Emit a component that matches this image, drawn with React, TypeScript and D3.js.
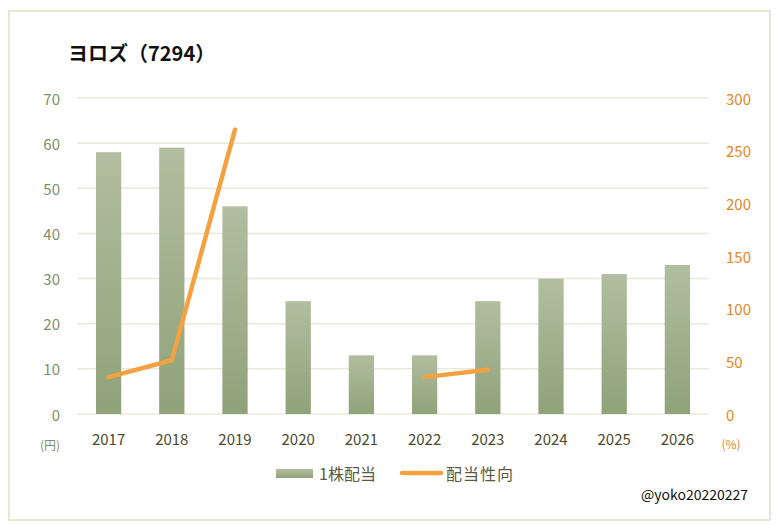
import * as d3 from 'd3'

const YEARS = ['2017', '2018', '2019', '2020', '2021', '2022', '2023', '2024', '2025', '2026']
// 1株配当 (円)
const DIVIDEND = [58, 59, 46, 25, 13, 13, 25, 30, 31, 33]
// 配当性向 (%), null = no data
const PAYOUT: (number | null)[] = [35, 51, 270, null, null, 35, 42, null, null, null]
const LEFT_TICKS = [0, 10, 20, 30, 40, 50, 60, 70]
const RIGHT_TICKS = [0, 50, 100, 150, 200, 250, 300]

const W = 781, H = 532
const FONT = '"Noto Sans CJK JP", "Noto Sans", sans-serif'
const ORANGE = '#f4a142'
const GRID = '#e8e9d8'

export default function App() {
  const x = d3.scaleBand<string>().domain(YEARS).range([77, 709]).paddingInner(0.6).paddingOuter(0.3)
  const yL = d3.scaleLinear().domain([0, 70]).range([414, 98])
  const yR = d3.scaleLinear().domain([0, 300]).range([414, 98])

  const line = d3.line<number | null>()
    .defined(d => d != null)
    .x((_, i) => (x(YEARS[i]) ?? 0) + x.bandwidth() / 2)
    .y(d => yR(d as number))

  return (
    <svg width={W} height={H} style={{ position: 'absolute', left: 0, top: 0 }} fontFamily={FONT}>
      <defs>
        <linearGradient id="barGrad" x1="0" y1="0" x2="0" y2="1">
          <stop offset="0%" stopColor="#b1be9f" />
          <stop offset="100%" stopColor="#8fa27a" />
        </linearGradient>
      </defs>
      <rect x={0} y={0} width={W} height={H} fill="#fff" />
      <rect x={9} y={11} width={761} height={509} fill="#fff" stroke="#e6e7d5" strokeWidth={2} />

      <text x={68} y={52} dominantBaseline="central" fontSize={20} fontWeight={700} fill="#111">ヨロズ（7294）</text>

      {/* gridlines */}
      {LEFT_TICKS.map(t => (
        <line key={t} x1={77} x2={709} y1={yL(t)} y2={yL(t)} stroke={GRID} strokeWidth={1.5} />
      ))}

      {/* left axis labels */}
      {LEFT_TICKS.map(t => (
        <text key={t} x={60} y={yL(t)} textAnchor="end" dominantBaseline="central" fontSize={15} fill="#7e8f68">{t}</text>
      ))}
      <text x={50} y={444} textAnchor="middle" dominantBaseline="central" fontSize={12} fill="#7e8f68">(円)</text>

      {/* right axis labels */}
      {RIGHT_TICKS.map(t => (
        <text key={t} x={726} y={yR(t)} dominantBaseline="central" fontSize={15} fill="#e3871f">{t}</text>
      ))}
      <text x={731} y={443} textAnchor="middle" dominantBaseline="central" fontSize={12} fill="#e3871f">(%)</text>

      {/* bars */}
      {DIVIDEND.map((v, i) => (
        <rect key={YEARS[i]} x={x(YEARS[i])} y={yL(v)} width={x.bandwidth()} height={yL(0) - yL(v)} fill="url(#barGrad)" />
      ))}

      {/* payout line */}
      <path d={line(PAYOUT) ?? ''} fill="none" stroke={ORANGE} strokeWidth={4.5} strokeLinecap="round" strokeLinejoin="round" />

      {/* x labels */}
      {YEARS.map(y => (
        <text key={y} x={(x(y) ?? 0) + x.bandwidth() / 2} y={438} textAnchor="middle" dominantBaseline="central" fontSize={15} fill="#4b4b2d">{y}</text>
      ))}

      {/* legend */}
      <rect x={276} y={469} width={37} height={9} fill="url(#barGrad)" />
      <text x={319} y={473} dominantBaseline="central" fontSize={16} fill="#595b3e">1株配当</text>
      <line x1={402} x2={441} y1={473} y2={473} stroke={ORANGE} strokeWidth={4.5} strokeLinecap="round" />
      <text x={446} y={473} dominantBaseline="central" fontSize={16} letterSpacing={1} fill="#595b3e">配当性向</text>

      <text x={641} y={494} dominantBaseline="central" fontSize={14} fill="#111">@yoko20220227</text>
    </svg>
  )
}
